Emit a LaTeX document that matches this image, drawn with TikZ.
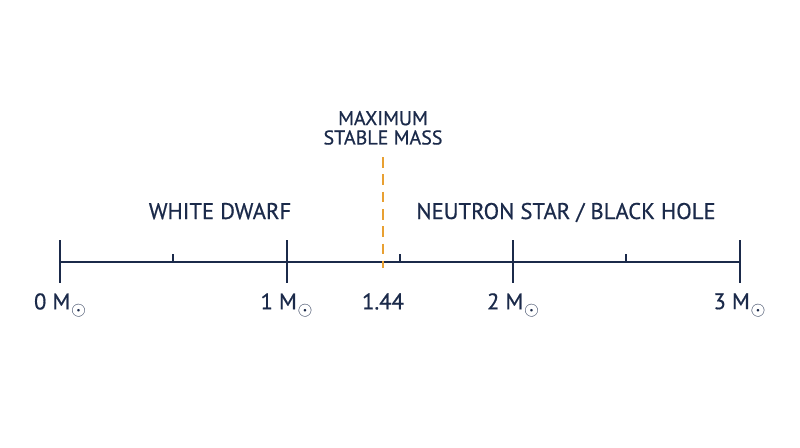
\documentclass[tikz,border=0pt]{standalone}
\usepackage{fontspec}
\setmainfont{PT Sans}
\usetikzlibrary{positioning}
\definecolor{navy}{HTML}{1B2A4A}
\definecolor{amber}{HTML}{E8A032}
\newcommand{\msun}{M\kern0.5pt\raisebox{-4.5pt}{\fontsize{14}{14}\selectfont$\odot$}}

\begin{document}
\begin{tikzpicture}[
	x=0.75pt, y=-0.75pt,
	axis/.style  = {draw=navy, line width=1.5pt},
	major/.style = {draw=navy, line width=1.5pt},
	minor/.style = {draw=navy, line width=1.2pt},
	limit/.style = {draw=amber, line width=1.6pt, dash pattern=on 8pt off 5pt},
	ticklabel/.style = {text=navy, font=\fontsize{17}{20}\selectfont\addfontfeature{FakeBold=0.6}, anchor=north, inner sep=0pt},
	region/.style = {text=navy, font=\fontsize{17}{20}\selectfont\addfontfeature{FakeBold=0.6}, anchor=base, inner sep=0pt},
	caption/.style = {text=navy, font=\fontsize{15}{14.5}\selectfont\addfontfeature{FakeBold=0.6}, align=center, inner sep=0pt}]
	
	\useasboundingbox (0,0) rectangle (800,447);
	
	% Axis end points
	\coordinate (m0) at (60,262);
	\coordinate (m3) at (739.5,262);
	\draw[axis] (m0) -- (m3);
	
	% Major ticks with their labels
	\foreach \value in {0,1,2,3}{
		\coordinate (t\value) at ({60+226.5*\value},262);
		\draw[major] (t\value) ++(0,-22) -- ++(0,43);
		\path (t\value) ++(0,31) node[ticklabel] (l\value) {\value\ \msun};
	}
	
	% Minor ticks at the half masses
	\foreach \value in {0,1,2}
	\draw[minor] (t\value) ++(113.25,0) -- ++(0,-8);
	
	% Chandrasekhar limit
	\coordinate (lim) at (383,262);
	\coordinate (limtop) at (383,157);
	\draw[limit] (limtop) -- ([yshift=-4.5pt]lim);
	\path (lim) ++(0,31) node[ticklabel] (l144) {1.44};
	\node[caption, above=9pt of limtop] (cap) {MAXIMUM\\STABLE MASS};
	
	% Regions on both sides of the limit
	\node[region] (wd) at (220,219) {WHITE DWARF};
	\node[region] (ns) at (566,219) {NEUTRON STAR / BLACK HOLE};
	
\end{tikzpicture}
\end{document}
